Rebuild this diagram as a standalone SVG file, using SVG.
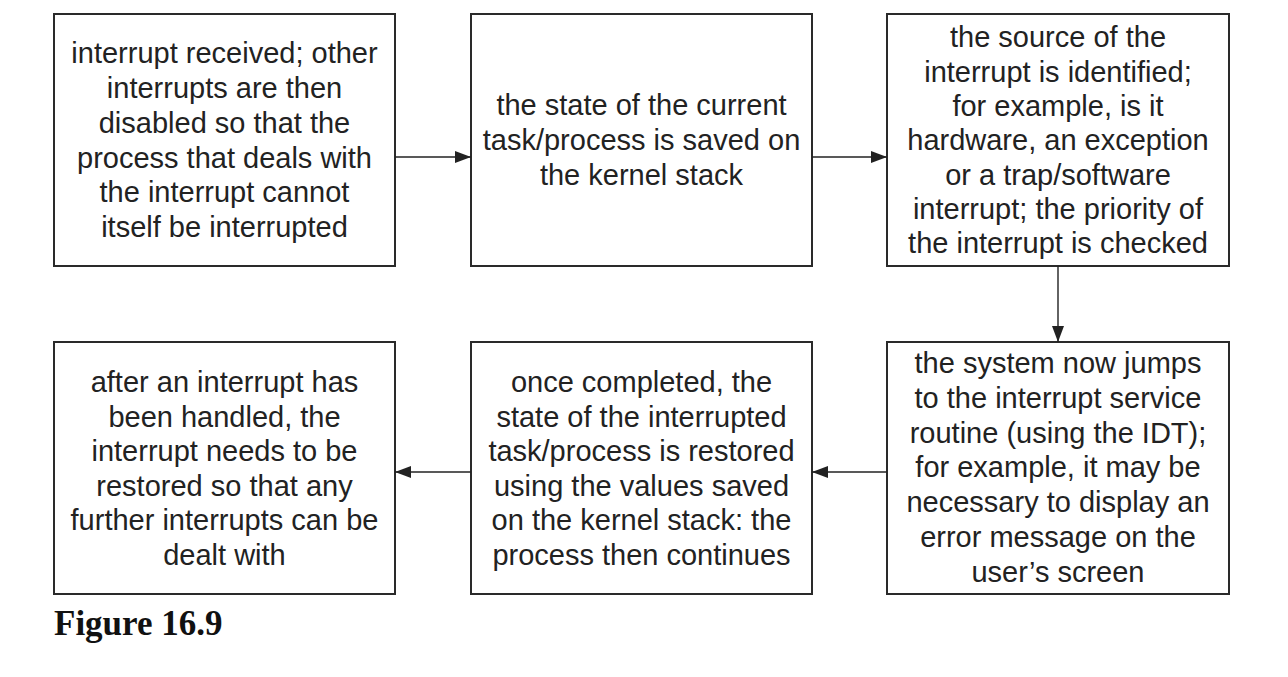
<svg xmlns="http://www.w3.org/2000/svg" width="1288" height="677" viewBox="0 0 1288 677">
<defs>
<style>
.box{fill:#fff;stroke:#2a2a2a;stroke-width:2}
.t{font-family:"Liberation Sans",Arial,sans-serif;font-size:29px;fill:#222;text-anchor:middle}
.c{stroke:#222;stroke-width:1.4;fill:none}
.cap{font-family:"Liberation Serif","Times New Roman",serif;font-size:35px;font-weight:bold;fill:#111}
</style>
<marker id="ah" viewBox="0 0 16 12" refX="16" refY="6" markerWidth="16" markerHeight="12" markerUnits="userSpaceOnUse" orient="auto">
<path d="M0,0 L16,6 L0,12 Z" fill="#222"/>
</marker>
</defs>
<rect width="1288" height="677" fill="#fff"/>
<g id="n1">
<rect class="box" x="54" y="14" width="341" height="252"/>
<text class="t"><tspan x="224.5" y="63">interrupt received; other</tspan><tspan x="224.5" y="98">interrupts are then</tspan><tspan x="224.5" y="133">disabled so that the</tspan><tspan x="224.5" y="168">process that deals with</tspan><tspan x="224.5" y="202">the interrupt cannot</tspan><tspan x="224.5" y="237">itself be interrupted</tspan></text>
</g>
<g id="n2">
<rect class="box" x="471" y="14" width="341" height="252"/>
<text class="t"><tspan x="641.5" y="115">the state of the current</tspan><tspan x="641.5" y="150">task/process is saved on</tspan><tspan x="641.5" y="185">the kernel stack</tspan></text>
</g>
<g id="n3">
<rect class="box" x="887" y="14" width="342" height="252"/>
<text class="t"><tspan x="1058" y="47">the source of the</tspan><tspan x="1058" y="81.5">interrupt is identified;</tspan><tspan x="1058" y="116">for example, is it</tspan><tspan x="1058" y="150">hardware, an exception</tspan><tspan x="1058" y="185">or a trap/software</tspan><tspan x="1058" y="219">interrupt; the priority of</tspan><tspan x="1058" y="253">the interrupt is checked</tspan></text>
</g>
<g id="n4">
<rect class="box" x="54" y="342" width="341" height="252"/>
<text class="t"><tspan x="224.5" y="392">after an interrupt has</tspan><tspan x="224.5" y="427">been handled, the</tspan><tspan x="224.5" y="461">interrupt needs to be</tspan><tspan x="224.5" y="496">restored so that any</tspan><tspan x="224.5" y="530">further interrupts can be</tspan><tspan x="224.5" y="565">dealt with</tspan></text>
</g>
<g id="n5">
<rect class="box" x="471" y="342" width="341" height="252"/>
<text class="t"><tspan x="641.5" y="392">once completed, the</tspan><tspan x="641.5" y="427">state of the interrupted</tspan><tspan x="641.5" y="461">task/process is restored</tspan><tspan x="641.5" y="496">using the values saved</tspan><tspan x="641.5" y="530">on the kernel stack: the</tspan><tspan x="641.5" y="565">process then continues</tspan></text>
</g>
<g id="n6">
<rect class="box" x="887" y="342" width="342" height="252"/>
<text class="t"><tspan x="1058" y="373">the system now jumps</tspan><tspan x="1058" y="408">to the interrupt service</tspan><tspan x="1058" y="443">routine (using the IDT);</tspan><tspan x="1058" y="477">for example, it may be</tspan><tspan x="1058" y="512">necessary to display an</tspan><tspan x="1058" y="547">error message on the</tspan><tspan x="1058" y="582">user’s screen</tspan></text>
</g>
<g id="connectors">
<line class="c" x1="395" y1="157" x2="471" y2="157" marker-end="url(#ah)"/>
<line class="c" x1="812" y1="157" x2="887" y2="157" marker-end="url(#ah)"/>
<line class="c" x1="1058" y1="266" x2="1058" y2="342" marker-end="url(#ah)"/>
<line class="c" x1="887" y1="472" x2="812" y2="472" marker-end="url(#ah)"/>
<line class="c" x1="471" y1="472" x2="395" y2="472" marker-end="url(#ah)"/>
</g>
<text class="cap" x="54" y="635">Figure 16.9</text>
</svg>
